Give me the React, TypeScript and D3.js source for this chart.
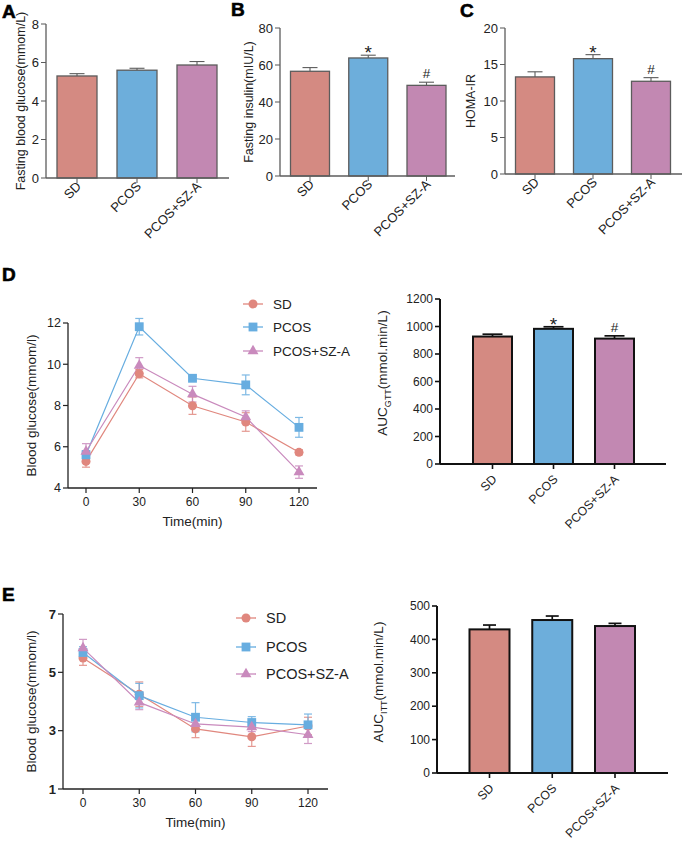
import React from "react";
import * as d3 from "d3";

const FONT = "Arial, 'Liberation Sans', Helvetica, sans-serif";

const groups = ["SD", "PCOS", "PCOS+SZ-A"];
const groupFill = ["#D48A82", "#6DAEDB", "#C288B2"];
const lineColor = ["#E0877E", "#67ADE0", "#C98ABD"];
const sigMarks = ["", "*", "#"];

// Fasting measures (mean, SEM)
const fbgMean = [5.3, 5.6, 5.87];
const fbgErr = [0.12, 0.1, 0.18];
const finsMean = [56.6, 63.8, 49.0];
const finsErr = [2.0, 1.5, 1.7];
const homaMean = [13.3, 15.8, 12.7];
const homaErr = [0.7, 0.55, 0.5];

// Area under curve
const aucGttMean = [927, 983, 912];
const aucGttErr = [17, 15, 20];
const aucIttMean = [430, 458, 440];
const aucIttErr = [13, 12, 8];

// Glucose tolerance test
const timePoints = [0, 30, 60, 90, 120];
const gttSD = [5.29, 9.54, 7.99, 7.2, 5.73];
const gttSDErr = [0.28, 0.2, 0.42, 0.45, 0.12];
const gttPCOS = [5.61, 11.82, 9.32, 9.0, 6.94];
const gttPCOSErr = [0.2, 0.4, 0.1, 0.48, 0.48];
const gttSZ = [5.77, 9.94, 8.55, 7.44, 4.77];
const gttSZErr = [0.38, 0.38, 0.38, 0.3, 0.3];

// Insulin tolerance test
const ittSD = [5.49, 4.25, 3.06, 2.79, 3.16];
const ittSDErr = [0.25, 0.42, 0.3, 0.33, 0.3];
const ittPCOS = [5.68, 4.2, 3.46, 3.28, 3.2];
const ittPCOSErr = [0.2, 0.42, 0.5, 0.2, 0.37];
const ittSZ = [5.83, 3.97, 3.23, 3.12, 2.86];
const ittSZErr = [0.3, 0.25, 0.2, 0.15, 0.3];

const symbolTypes = [d3.symbolCircle, d3.symbolSquare, d3.symbolTriangle];
const symbolSizes = [64, 78, 52];

type BarProps = {
  means: number[];
  errs: number[];
  marks?: string[];
  yMax: number;
  yStep: number;
  y0: number;
  y1: number;
  axisX: number;
  axisEnd: number;
  c0: number;
  c1: number;
  barW: number;
  capW: number;
  dark: boolean;
  label: React.ReactNode;
  labelX: number;
  labelY?: number;
  tickFs: number;
};

function BarPanel(p: BarProps) {
  const y = d3.scaleLinear().domain([0, p.yMax]).range([p.y0, p.y1]);
  const x = d3.scalePoint<string>().domain(groups).range([p.c0, p.c1]);
  const ink = p.dark ? "#111" : "#5c5c5c";
  const sw = p.dark ? 2 : 1.3;
  const ticks = d3.range(0, p.yMax + p.yStep / 2, p.yStep);
  const midY = p.labelY ?? (p.y0 + p.y1) / 2;
  const lblDx = 5;
  const lblDy = p.dark ? 16 : 9;
  const lblFs = p.dark ? 12.3 : 13;
  return (
    <g fontFamily={FONT}>
      {groups.map((g, i) => {
        const cx = x(g)!;
        const top = y(p.means[i]);
        const et = y(p.means[i] + p.errs[i]);
        return (
          <g key={g}>
            <line x1={cx} x2={cx} y1={top} y2={et} stroke={ink} strokeWidth={sw * 0.85} />
            <line x1={cx - p.capW / 2} x2={cx + p.capW / 2} y1={et} y2={et} stroke={ink} strokeWidth={sw * 0.85} />
            <rect x={cx - p.barW / 2} y={top} width={p.barW} height={p.y0 - top} fill={groupFill[i]} stroke={ink} strokeWidth={sw} />
            {p.marks && p.marks[i] === "*" && (
              <text x={cx} y={et + 4} textAnchor="middle" fontSize={19} fill="#222">*</text>
            )}
            {p.marks && p.marks[i] === "#" && (
              <text x={cx} y={et - 4} textAnchor="middle" fontSize={13.5} fill="#222">#</text>
            )}
            <line x1={cx} x2={cx} y1={p.y0} y2={p.y0 + 5} stroke={ink} strokeWidth={sw * 0.8} />
            <text
              transform={`translate(${cx + lblDx},${p.y0 + lblDy}) rotate(-45)`}
              textAnchor="end"
              fontSize={lblFs}
              fill="#222"
            >
              {g}
            </text>
          </g>
        );
      })}
      <line x1={p.axisX} x2={p.axisX} y1={p.y0} y2={p.y1} stroke={ink} strokeWidth={sw} />
      <line x1={p.axisX} x2={p.axisEnd} y1={p.y0} y2={p.y0} stroke={ink} strokeWidth={sw} />
      {ticks.map((t) => (
        <g key={t}>
          <line x1={p.axisX - 5} x2={p.axisX} y1={y(t)} y2={y(t)} stroke={ink} strokeWidth={sw * 0.8} />
          <text x={p.axisX - 7} y={y(t)} dy="0.35em" textAnchor="end" fontSize={p.tickFs} fill="#222">
            {t}
          </text>
        </g>
      ))}
      <text
        transform={`translate(${p.labelX},${midY}) rotate(-90)`}
        textAnchor="middle"
        fontSize={p.dark ? 13.5 : 12.5}
        fill="#222"
      >
        {p.label}
      </text>
    </g>
  );
}

type LineProps = {
  series: number[][];
  errs: number[][];
  yMin: number;
  yMax: number;
  yStep: number;
  y0: number;
  y1: number;
  axisX: number;
  axisEnd: number;
  xa: number;
  xb: number;
  boldTicks: boolean;
  labelX: number;
  legendX: number;
  legendYs: number[];
  legendFs: number;
};

function LinePanel(p: LineProps) {
  const y = d3.scaleLinear().domain([p.yMin, p.yMax]).range([p.y0, p.y1]);
  const x = d3.scaleLinear().domain([0, 120]).range([p.xa, p.xb]);
  const line = d3
    .line<number>()
    .x((_, i) => x(timePoints[i]))
    .y((d) => y(d));
  const ticks = d3.range(p.yMin, p.yMax + p.yStep / 2, p.yStep);
  const ink = "#222";
  const cap = 4;
  return (
    <g fontFamily={FONT}>
      {p.series.map((s, k) => (
        <path key={"l" + k} d={line(s)!} fill="none" stroke={lineColor[k]} strokeWidth={1.2} />
      ))}
      {p.series.map((s, k) =>
        s.map((v, i) => {
          const cx = x(timePoints[i]);
          const hi = y(v + p.errs[k][i]);
          const lo = y(v - p.errs[k][i]);
          return (
            <g key={"e" + k + "-" + i} stroke={lineColor[k]} strokeWidth={1.2} opacity={0.85}>
              <line x1={cx} x2={cx} y1={hi} y2={lo} />
              <line x1={cx - cap} x2={cx + cap} y1={hi} y2={hi} />
              <line x1={cx - cap} x2={cx + cap} y1={lo} y2={lo} />
            </g>
          );
        })
      )}
      {p.series.map((s, k) =>
        s.map((v, i) => (
          <path
            key={"m" + k + "-" + i}
            d={d3.symbol().type(symbolTypes[k]).size(symbolSizes[k])()!}
            transform={`translate(${x(timePoints[i])},${y(v)})`}
            fill={lineColor[k]}
          />
        ))
      )}
      <line x1={p.axisX} x2={p.axisX} y1={p.y0} y2={p.y1} stroke={ink} strokeWidth={1.3} />
      <line x1={p.axisX} x2={p.axisEnd} y1={p.y0} y2={p.y0} stroke={ink} strokeWidth={1.3} />
      {ticks.map((t) => (
        <g key={"y" + t}>
          <line x1={p.axisX - 5} x2={p.axisX} y1={y(t)} y2={y(t)} stroke={ink} strokeWidth={1.2} />
          <text
            x={p.axisX - 7}
            y={y(t)}
            dy="0.35em"
            textAnchor="end"
            fontSize={p.boldTicks ? 13 : 12.5}
            fontWeight={p.boldTicks ? 700 : 400}
            fill={ink}
          >
            {t}
          </text>
        </g>
      ))}
      {timePoints.map((t) => (
        <g key={"x" + t}>
          <line x1={x(t)} x2={x(t)} y1={p.y0} y2={p.y0 + 5} stroke={ink} strokeWidth={1.2} />
          <text x={x(t)} y={p.y0 + 18} textAnchor="middle" fontSize={12} fill={ink}>
            {t}
          </text>
        </g>
      ))}
      <text x={(p.xa + p.xb) / 2} y={p.y0 + 38} textAnchor="middle" fontSize={13.5} fill={ink}>
        Time(min)
      </text>
      <text
        transform={`translate(${p.labelX},${(p.y0 + p.y1) / 2}) rotate(-90)`}
        textAnchor="middle"
        fontSize={13.5}
        fill={ink}
      >
        Blood glucose(mmom/l)
      </text>
      {groups.map((g, k) => (
        <g key={"lg" + g}>
          <line
            x1={p.legendX - 10}
            x2={p.legendX + 10}
            y1={p.legendYs[k]}
            y2={p.legendYs[k]}
            stroke={lineColor[k]}
            strokeWidth={1.3}
          />
          <path
            d={d3.symbol().type(symbolTypes[k]).size(symbolSizes[k])()!}
            transform={`translate(${p.legendX},${p.legendYs[k]})`}
            fill={lineColor[k]}
          />
          <text x={p.legendX + 20} y={p.legendYs[k]} dy="0.35em" fontSize={p.legendFs} fill={ink}>
            {g}
          </text>
        </g>
      ))}
    </g>
  );
}

function PanelLetter({ x, y, t }: { x: number; y: number; t: string }) {
  return (
    <text x={x} y={y} fontFamily={FONT} fontWeight={900} fontSize={19} fill="#000" stroke="#000" strokeWidth={0.6}>
      {t}
    </text>
  );
}

function aucLabel(sub: string) {
  return (
    <>
      AUC
      <tspan fontSize={9} dy={4}>
        {sub}
      </tspan>
      <tspan dy={-4}>(mmol.min/L)</tspan>
    </>
  );
}

export default function App() {
  return (
    <svg
      width={682}
      height={841}
      style={{ position: "absolute", left: 0, top: 0, background: "#fff" }}
    >
      <rect width={682} height={841} fill="#fff" />
      <PanelLetter x={2} y={18} t="A" />
      <PanelLetter x={231} y={16} t="B" />
      <PanelLetter x={460} y={17} t="C" />
      <PanelLetter x={2} y={281} t="D" />
      <PanelLetter x={2} y={601} t="E" />

      <BarPanel
        means={fbgMean}
        errs={fbgErr}
        yMax={8}
        yStep={2}
        y0={178}
        y1={24}
        axisX={46}
        axisEnd={229}
        c0={77}
        c1={197}
        barW={40}
        capW={15}
        dark={false}
        label="Fasting blood glucose(mmom/L)"
        labelX={25}
        tickFs={13}
      />
      <BarPanel
        means={finsMean}
        errs={finsErr}
        marks={sigMarks}
        yMax={80}
        yStep={20}
        y0={176}
        y1={28}
        axisX={280}
        axisEnd={455}
        c0={310}
        c1={426.5}
        barW={39}
        capW={15}
        dark={false}
        label="Fasting insulin(mIU/L)"
        labelX={253}
        tickFs={13}
      />
      <BarPanel
        means={homaMean}
        errs={homaErr}
        marks={sigMarks}
        yMax={20}
        yStep={5}
        y0={174}
        y1={28}
        axisX={505}
        axisEnd={682}
        c0={535}
        c1={651}
        barW={39}
        capW={15}
        dark={false}
        label="HOMA-IR"
        labelX={475}
        tickFs={13}
      />

      <LinePanel
        series={[gttSD, gttPCOS, gttSZ]}
        errs={[gttSDErr, gttPCOSErr, gttSZErr]}
        yMin={4}
        yMax={12}
        yStep={2}
        y0={488}
        y1={323}
        axisX={68}
        axisEnd={317}
        xa={86}
        xb={299}
        boldTicks={false}
        labelX={36}
        legendX={253}
        legendYs={[304, 327, 351]}
        legendFs={13.5}
      />
      <BarPanel
        means={aucGttMean}
        errs={aucGttErr}
        marks={sigMarks}
        yMax={1200}
        yStep={200}
        y0={464}
        y1={299}
        axisX={440}
        axisEnd={666}
        c0={492.5}
        c1={614.5}
        barW={39}
        capW={20}
        dark={true}
        label={aucLabel("GTT")}
        labelX={387}
        labelY={373}
        tickFs={12}
      />

      <LinePanel
        series={[ittSD, ittPCOS, ittSZ]}
        errs={[ittSDErr, ittPCOSErr, ittSZErr]}
        yMin={1}
        yMax={7}
        yStep={2}
        y0={789}
        y1={614}
        axisX={63}
        axisEnd={328}
        xa={83}
        xb={308}
        boldTicks={true}
        labelX={36}
        legendX={246}
        legendYs={[618, 647, 674]}
        legendFs={14.5}
      />
      <BarPanel
        means={aucIttMean}
        errs={aucIttErr}
        yMax={500}
        yStep={100}
        y0={773}
        y1={606}
        axisX={437}
        axisEnd={668}
        c0={489.5}
        c1={615}
        barW={40}
        capW={13}
        dark={true}
        label={aucLabel("ITT")}
        labelX={383}
        labelY={682}
        tickFs={12}
      />
    </svg>
  );
}
